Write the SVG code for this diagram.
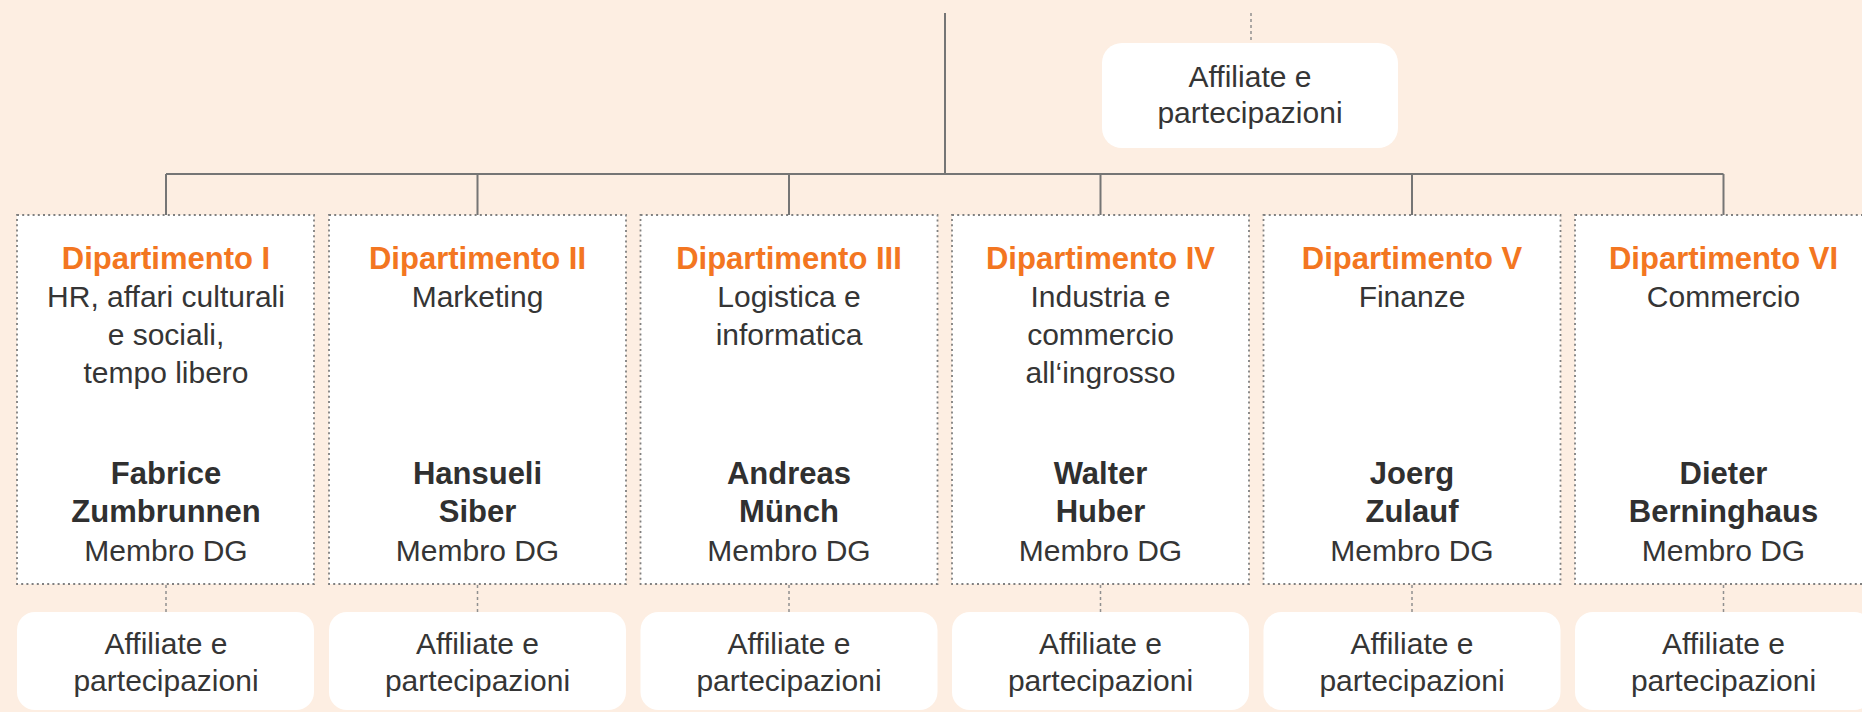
<svg xmlns="http://www.w3.org/2000/svg" width="1862" height="712" viewBox="0 0 1862 712">
<style>
.bg{fill:#fdeee2}
.dept{fill:#ffffff;stroke:#808080;stroke-width:1.8;stroke-dasharray:2 3.2}
.aff{fill:#ffffff;stroke:none}
.ln{stroke:#757575;stroke-width:2;fill:none}
.dl{stroke:#909090;stroke-width:1.5;stroke-dasharray:3 3;fill:none}
text{font-family:"Liberation Sans",Arial,Helvetica,sans-serif;text-anchor:middle}
.t{font-size:31px;font-weight:bold;fill:#f37621}
.r{font-size:30px;fill:#353535}
.n{font-size:31px;font-weight:bold;fill:#303030}
</style>
<rect class="bg" x="0" y="0" width="1862" height="712"/>
<g id="connectors">
<line class="ln" x1="945" y1="13" x2="945" y2="174"/>
<line class="ln" x1="166" y1="174" x2="1723.5" y2="174"/>
<line class="ln" x1="166" y1="174" x2="166" y2="215"/>
<line class="ln" x1="477.5" y1="174" x2="477.5" y2="215"/>
<line class="ln" x1="789" y1="174" x2="789" y2="215"/>
<line class="ln" x1="1100.5" y1="174" x2="1100.5" y2="215"/>
<line class="ln" x1="1412" y1="174" x2="1412" y2="215"/>
<line class="ln" x1="1723.5" y1="174" x2="1723.5" y2="215"/>
<line class="dl" x1="1251" y1="13" x2="1251" y2="43"/>
<line class="dl" x1="166" y1="585" x2="166" y2="612"/>
<line class="dl" x1="477.5" y1="585" x2="477.5" y2="612"/>
<line class="dl" x1="789" y1="585" x2="789" y2="612"/>
<line class="dl" x1="1100.5" y1="585" x2="1100.5" y2="612"/>
<line class="dl" x1="1412" y1="585" x2="1412" y2="612"/>
<line class="dl" x1="1723.5" y1="585" x2="1723.5" y2="612"/>
</g>
<g id="aff-top">
<rect class="aff" x="1102" y="43" width="296" height="105" rx="20"/>
<text class="r" x="1250" y="87">Affiliate e</text>
<text class="r" x="1250" y="123">partecipazioni</text>
</g>
<g id="dept1">
<rect class="dept" x="17" y="215" width="297" height="369"/>
<text class="t" x="166" y="269">Dipartimento I</text>
<text class="r" x="166" y="307">HR, affari culturali</text>
<text class="r" x="166" y="345">e sociali,</text>
<text class="r" x="166" y="383">tempo libero</text>
<text class="n" x="166" y="484">Fabrice</text>
<text class="n" x="166" y="522">Zumbrunnen</text>
<text class="r" x="166" y="561">Membro DG</text>
</g>
<g id="dept2">
<rect class="dept" x="329" y="215" width="297" height="369"/>
<text class="t" x="477.5" y="269">Dipartimento II</text>
<text class="r" x="477.5" y="307">Marketing</text>
<text class="n" x="477.5" y="484">Hansueli</text>
<text class="n" x="477.5" y="522">Siber</text>
<text class="r" x="477.5" y="561">Membro DG</text>
</g>
<g id="dept3">
<rect class="dept" x="640.5" y="215" width="297" height="369"/>
<text class="t" x="789" y="269">Dipartimento III</text>
<text class="r" x="789" y="307">Logistica e</text>
<text class="r" x="789" y="345">informatica</text>
<text class="n" x="789" y="484">Andreas</text>
<text class="n" x="789" y="522">Münch</text>
<text class="r" x="789" y="561">Membro DG</text>
</g>
<g id="dept4">
<rect class="dept" x="952" y="215" width="297" height="369"/>
<text class="t" x="1100.5" y="269">Dipartimento IV</text>
<text class="r" x="1100.5" y="307">Industria e</text>
<text class="r" x="1100.5" y="345">commercio</text>
<text class="r" x="1100.5" y="383">all‘ingrosso</text>
<text class="n" x="1100.5" y="484">Walter</text>
<text class="n" x="1100.5" y="522">Huber</text>
<text class="r" x="1100.5" y="561">Membro DG</text>
</g>
<g id="dept5">
<rect class="dept" x="1263.5" y="215" width="297" height="369"/>
<text class="t" x="1412" y="269">Dipartimento V</text>
<text class="r" x="1412" y="307">Finanze</text>
<text class="n" x="1412" y="484">Joerg</text>
<text class="n" x="1412" y="522">Zulauf</text>
<text class="r" x="1412" y="561">Membro DG</text>
</g>
<g id="dept6">
<rect class="dept" x="1575" y="215" width="297" height="369"/>
<text class="t" x="1723.5" y="269">Dipartimento VI</text>
<text class="r" x="1723.5" y="307">Commercio</text>
<text class="n" x="1723.5" y="484">Dieter</text>
<text class="n" x="1723.5" y="522">Berninghaus</text>
<text class="r" x="1723.5" y="561">Membro DG</text>
</g>
<g id="aff1">
<rect class="aff" x="17" y="612" width="297" height="98" rx="18"/>
<text class="r" x="166" y="654">Affiliate e</text>
<text class="r" x="166" y="691">partecipazioni</text>
</g>
<g id="aff2">
<rect class="aff" x="329" y="612" width="297" height="98" rx="18"/>
<text class="r" x="477.5" y="654">Affiliate e</text>
<text class="r" x="477.5" y="691">partecipazioni</text>
</g>
<g id="aff3">
<rect class="aff" x="640.5" y="612" width="297" height="98" rx="18"/>
<text class="r" x="789" y="654">Affiliate e</text>
<text class="r" x="789" y="691">partecipazioni</text>
</g>
<g id="aff4">
<rect class="aff" x="952" y="612" width="297" height="98" rx="18"/>
<text class="r" x="1100.5" y="654">Affiliate e</text>
<text class="r" x="1100.5" y="691">partecipazioni</text>
</g>
<g id="aff5">
<rect class="aff" x="1263.5" y="612" width="297" height="98" rx="18"/>
<text class="r" x="1412" y="654">Affiliate e</text>
<text class="r" x="1412" y="691">partecipazioni</text>
</g>
<g id="aff6">
<rect class="aff" x="1575" y="612" width="297" height="98" rx="18"/>
<text class="r" x="1723.5" y="654">Affiliate e</text>
<text class="r" x="1723.5" y="691">partecipazioni</text>
</g>
</svg>
